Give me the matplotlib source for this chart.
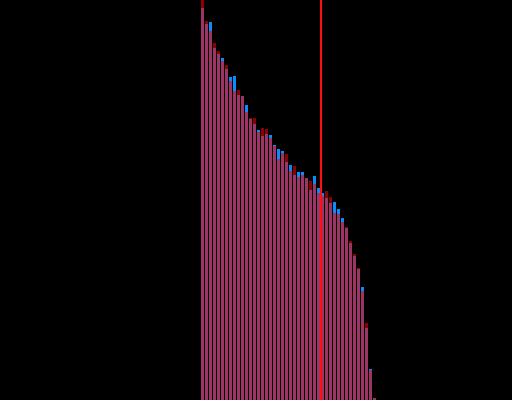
import matplotlib
matplotlib.use('Agg')
import matplotlib.pyplot as plt
import numpy as np

# два ряда значений, общая часть закрашена розовым
red_vals = [100, 94.75, 92.25, 89.25, 87.25, 84.75, 83.75, 79.75, 77.25, 77.5,
            76, 72, 70.5, 70.5, 67, 68, 67.75, 65.5, 63.5, 60.25,
            61.75, 61.5, 57.25, 58.5, 55.75, 56.25, 55.5, 54.75, 54, 51.75,
            51, 52.25, 50.75, 46.75, 46.5, 44.5, 43.25, 39.75, 36.5, 33,
            27.25, 19.25, 7.5, 0.5]
blue_vals = [98, 94, 94.5, 88, 86.5, 85.5, 82.75, 80.75, 81, 76.25,
             76, 73.75, 70.25, 69, 67.5, 66, 66.5, 66.25, 63.75, 62.75,
             62.25, 59.5, 58.75, 56.25, 57, 57, 55.5, 52.5, 56, 53,
             51.75, 50.5, 49.25, 49.5, 47.75, 45.5, 43, 39.25, 36, 32.75,
             28.25, 18, 7.75, 0.5]
marker_x = 29.5

x = np.arange(len(red_vals))
red = np.array(red_vals)
blue = np.array(blue_vals)
common = np.minimum(red, blue)

fig = plt.figure(figsize=(5.12, 4.0), dpi=100, facecolor='black')
ax = fig.add_axes([0, 0, 1, 1])
ax.set_facecolor('black')

ax.bar(x, red, width=0.75, color='#8b0000', linewidth=0, antialiased=False)
ax.bar(x, blue, width=0.75, color='#0a8cff', linewidth=0, antialiased=False)
ax.bar(x, common, width=0.75, color='#9c3466', linewidth=0, antialiased=False)
ax.axvline(marker_x, color='#ff1010', linewidth=1.5)

ax.set_xlim(-50.625, 77.375)
ax.set_ylim(0, 100)
ax.axis('off')

fig.savefig('out.png', dpi=100, facecolor='black')
